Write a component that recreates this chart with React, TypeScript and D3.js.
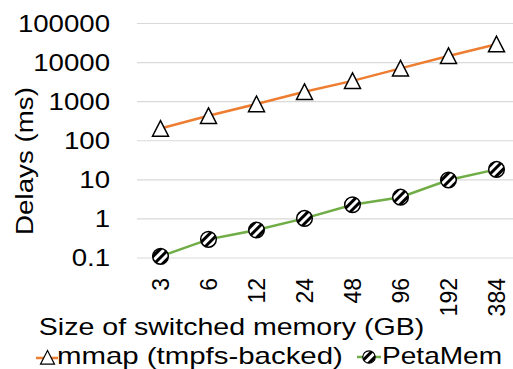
import React from "react";
import * as d3 from "d3";

const sizes = ["3", "6", "12", "24", "48", "96", "192", "384"];
const mmapDelays = [205, 435, 870, 1790, 3400, 7100, 14800, 29500];
const petaMemDelays = [0.11, 0.3, 0.52, 1.03, 2.3, 3.6, 9.9, 18.5];
const yTicks = [0.1, 1, 10, 100, 1000, 10000, 100000];
const seriesNames = ["mmap (tmpfs-backed)", "PetaMem"];

const W = 513;
const H = 369;
const FONT = "'Liberation Sans', Arial, sans-serif";
const ORANGE = "#ED7D31";
const GREEN = "#70AD47";

export default function App() {
  const x = d3.scaleBand<string>().domain(sizes).range([136.5, 520.5]).padding(0);
  const cx = (s: string) => (x(s) ?? 0) + x.bandwidth() / 2;
  const y = d3.scaleLog().domain([0.1, 100000]).range([258, 23.5]);

  const line = d3
    .line<[string, number]>()
    .x((d) => cx(d[0]))
    .y((d) => y(d[1]));

  const mmapPts = sizes.map((s, i) => [s, mmapDelays[i]] as [string, number]);
  const petaPts = sizes.map((s, i) => [s, petaMemDelays[i]] as [string, number]);

  const tri = (r: number) => `M0,${-r}L${r},${r * 0.95}L${-r},${r * 0.95}Z`;

  return (
    <svg
      width={W}
      height={H}
      style={{ position: "absolute", left: 0, top: 0, background: "#fff" }}
      fontFamily={FONT}
    >
      <defs>
        <pattern
          id="stripes"
          patternUnits="userSpaceOnUse"
          width={6}
          height={6}
          patternTransform="rotate(-45)"
        >
          <rect width={6} height={6} fill="#fff" />
          <rect width={6} height={3} fill="#000" />
        </pattern>
      </defs>

      {/* horizontal gridlines */}
      {yTicks.map((t) => (
        <line
          key={t}
          x1={137}
          x2={W}
          y1={y(t)}
          y2={y(t)}
          stroke="#D9D9D9"
          strokeWidth={1.2}
        />
      ))}

      {/* y tick labels */}
      {yTicks.map((t) => (
        <text
          key={t}
          transform={`translate(110,${y(t)}) scale(1.15,1)`}
          dy="0.35em"
          textAnchor="end"
          fontSize={24}
          fill="#000"
        >
          {String(t)}
        </text>
      ))}

      {/* x tick labels */}
      {sizes.map((s) => (
        <text
          key={s}
          transform={`translate(${cx(s)},278) rotate(-90)`}
          dy="0.35em"
          textAnchor="end"
          fontSize={23}
          fill="#000"
        >
          {s}
        </text>
      ))}

      {/* axis titles */}
      <text
        transform={`translate(32.5,161) rotate(-90) scale(1.156,1)`}
        textAnchor="middle"
        fontSize={24}
        fill="#000"
      >
        Delays (ms)
      </text>
      <text
        transform="translate(231.5,335) scale(1.19,1)"
        textAnchor="middle"
        fontSize={24}
        fill="#000"
      >
        Size of switched memory (GB)
      </text>

      {/* series lines */}
      <path d={line(mmapPts) ?? ""} fill="none" stroke={ORANGE} strokeWidth={2.5} />
      <path d={line(petaPts) ?? ""} fill="none" stroke={GREEN} strokeWidth={2.5} />

      {/* markers */}
      {mmapPts.map(([s, v]) => (
        <path
          key={s}
          d={tri(8)}
          transform={`translate(${cx(s)},${y(v)})`}
          fill="#fff"
          stroke="#000"
          strokeWidth={1.5}
        />
      ))}
      {petaPts.map(([s, v]) => (
        <circle
          key={s}
          cx={cx(s)}
          cy={y(v)}
          r={7.8}
          fill="url(#stripes)"
          stroke="#000"
          strokeWidth={1.5}
        />
      ))}

      {/* legend */}
      <g>
        <line x1={36} x2={58} y1={358} y2={358} stroke={ORANGE} strokeWidth={2.5} />
        <path
          d={tri(7)}
          transform="translate(47.5,357.5)"
          fill="#fff"
          stroke="#000"
          strokeWidth={1.2}
        />
        <text transform="translate(57,364) scale(1.225,1)" fontSize={24} fill="#000">
          {seriesNames[0]}
        </text>
        <line x1={357} x2={381} y1={357} y2={357} stroke={GREEN} strokeWidth={2.5} />
        <circle
          cx={369}
          cy={357}
          r={6.2}
          fill="url(#stripes)"
          stroke="#000"
          strokeWidth={1.2}
        />
        <text transform="translate(382,364) scale(1.17,1)" fontSize={24} fill="#000">
          {seriesNames[1]}
        </text>
      </g>
    </svg>
  );
}
